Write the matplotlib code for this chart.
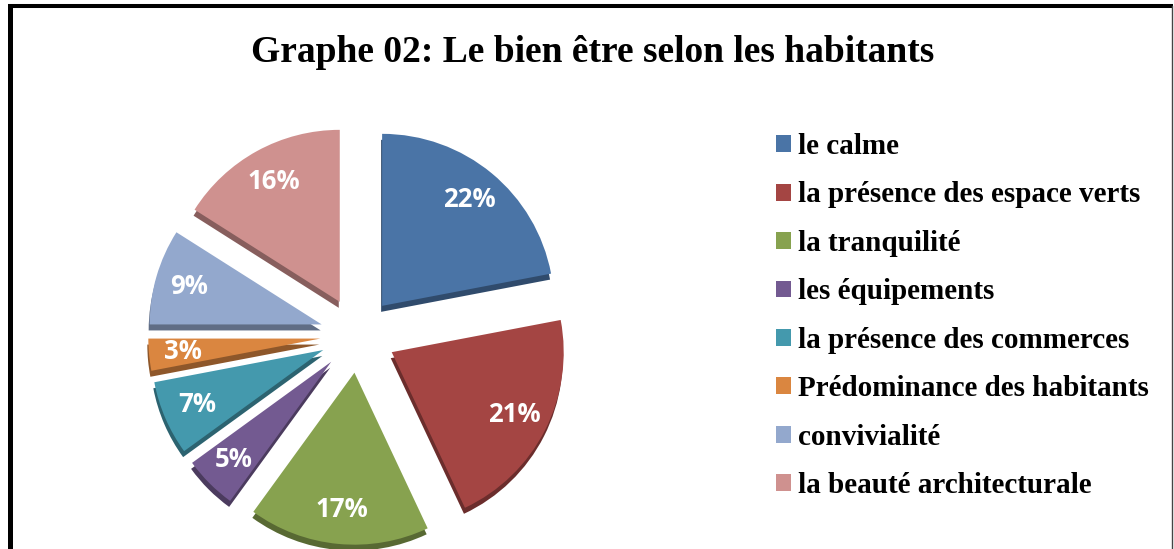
import matplotlib
matplotlib.use("Agg")
import matplotlib.pyplot as plt
from matplotlib.patches import Patch
from matplotlib.lines import Line2D
import matplotlib.colors as mcolors

title = "Graphe 02: Le bien être selon les habitants"
categories = ["le calme", "la présence des espace verts", "la tranquilité",
              "les équipements", "la présence des commerces",
              "Prédominance des habitants", "convivialité",
              "la beauté architecturale"]
values = [22, 21, 17, 5, 7, 3, 9, 16]
colors = ["#4A74A6", "#A44543", "#87A24F", "#735A91", "#4499AD",
          "#DA8640", "#93A8CD", "#CF918F"]

W, H = 1174, 549
fig = plt.figure(figsize=(W / 100, H / 100), dpi=100)
fig.patch.set_facecolor("white")
ax = fig.add_axes([0, 0, 1, 1])

cx, cy, R = 358, H - 335, 172
explode = [0.22 * R] * len(values)

def darker(c, f=0.65):
    r, g, b = mcolors.to_rgb(c)
    return (r * f, g * f, b * f)

# side (3D thickness) drawn underneath, shifted down
ax.pie(values, colors=[darker(c) for c in colors], explode=explode,
       startangle=90, counterclock=False, radius=R, center=(cx - 1, cy - 6),
       wedgeprops=dict(linewidth=0))
# top faces
wedges, texts, autotexts = ax.pie(
    values, colors=colors, explode=explode, startangle=90, counterclock=False,
    radius=R, center=(cx, cy), autopct="%1.0f%%", pctdistance=0.8,
    wedgeprops=dict(linewidth=0),
    textprops=dict(color="white", fontsize=18.5, fontweight="bold",
                   family="Open Sans"))

ax.set_xlim(0, W)
ax.set_ylim(0, H)
ax.set_aspect("auto")
ax.axis("off")

fig.text(593 / W, 1 - 62 / H, title, ha="center", va="baseline",
         family="Liberation Serif", fontweight="bold", fontsize=27)

fs = 21
fs_px = fs * 100 / 72
handles = [Patch(facecolor=c, edgecolor="none") for c in colors]
leg = ax.legend(handles, categories, loc="upper left",
                bbox_to_anchor=(776 / W, 1 - 133 / H),
                bbox_transform=fig.transFigure, frameon=False,
                prop=dict(family="Liberation Serif", weight="bold", size=fs),
                handlelength=15 / fs_px, handleheight=15 / fs_px,
                handletextpad=7 / fs_px, labelspacing=0.735,
                borderpad=0, borderaxespad=0)

# outer frame
fig.add_artist(Line2D([10 / W, 10 / W], [0, 1 - 4 / H], transform=fig.transFigure,
                      color="black", linewidth=3.6, solid_capstyle="butt"))
fig.add_artist(Line2D([8 / W, 1173 / W], [1 - 6 / H, 1 - 6 / H],
                      transform=fig.transFigure, color="black", linewidth=2.9,
                      solid_capstyle="butt"))
fig.add_artist(Line2D([1172 / W, 1172 / W], [0, 1 - 6 / H], transform=fig.transFigure,
                      color="#444444", linewidth=1.0))

fig.savefig("out.png", dpi=100)
